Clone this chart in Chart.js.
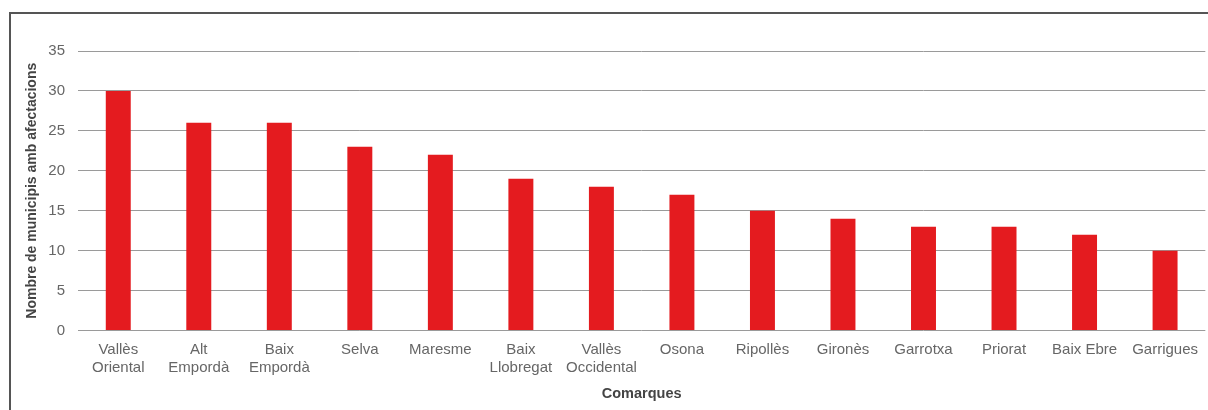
<!DOCTYPE html>
<html>
<head>
<meta charset="utf-8">
<script src="https://cdn.jsdelivr.net/npm/chart.js@4/dist/chart.umd.min.js"></script>
<style>
    html, body { margin: 0; padding: 0; background: #fff; }
    #marc {
        position: absolute; left: 9px; top: 12px; width: 1199px; height: 398px;
        border-left: 2px solid #555; border-top: 2px solid #555;
    }
    #caixa { position: absolute; left: 0; top: 0; width: 1208px; height: 410px; }
</style>
</head>
<body>
<div id="marc"></div>
<div id="caixa"><canvas id="municipis"></canvas></div>
<script>
    const comarques = [
        ['Vallès', 'Oriental'], ['Alt', 'Empordà'], ['Baix', 'Empordà'], 'Selva', 'Maresme',
        ['Baix', 'Llobregat'], ['Vallès', 'Occidental'], 'Osona', 'Ripollès', 'Gironès',
        'Garrotxa', 'Priorat', 'Baix Ebre', 'Garrigues'
    ]
    const municipis = [30, 26, 26, 23, 22, 19, 18, 17, 15, 14, 13, 13, 12, 10]

    const ctx = document.getElementById('municipis').getContext('2d');
    const grafic = new Chart(ctx, {
        type: 'bar',
        data: {
            labels: comarques,
            datasets: [{
                label: '',
                data: municipis,
                backgroundColor: '#e41b1f',
                barPercentage: 0.62,
                categoryPercentage: 0.5
            }]
        },
        options: {
            responsive: true,
            maintainAspectRatio: false,
            animation: false,
            layout: {
                padding: { left: 20, right: 0, top: 51, bottom: 5 }
            },
            scales: {
                x: {
                    grid: { display: false, drawTicks: false },
                    border: { display: false },
                    ticks: {
                        color: '#666',
                        font: { family: 'Liberation Sans', size: 15 },
                        maxRotation: 0,
                        autoSkip: false,
                        padding: 10
                    },
                    title: {
                        display: true,
                        text: 'Comarques',
                        color: '#444',
                        font: { family: 'Liberation Sans', size: 14.5, weight: 'bold', lineHeight: 1 },
                        padding: { top: 0, bottom: 4 }
                    }
                },
                y: {
                    beginAtZero: true,
                    min: 0,
                    max: 35,
                    // fixed width so the title sits close to the tick labels
                    afterFit: scale => { scale.width = 58 },
                    ticks: {
                        stepSize: 5,
                        color: '#666',
                        font: { family: 'Liberation Sans', size: 15 },
                        padding: 13
                    },
                    grid: { color: '#9a9a9a', lineWidth: 1, drawTicks: false },
                    border: { display: false },
                    title: {
                        display: true,
                        text: 'Nombre de municipis amb afectacions',
                        color: '#444',
                        font: { family: 'Liberation Sans', size: 14, weight: 'bold' },
                        padding: { top: 4, bottom: 4 }
                    }
                }
            },
            plugins: {
                legend: { display: false },
                tooltip: { enabled: false }
            }
        }
    });
</script>
</body>
</html>
